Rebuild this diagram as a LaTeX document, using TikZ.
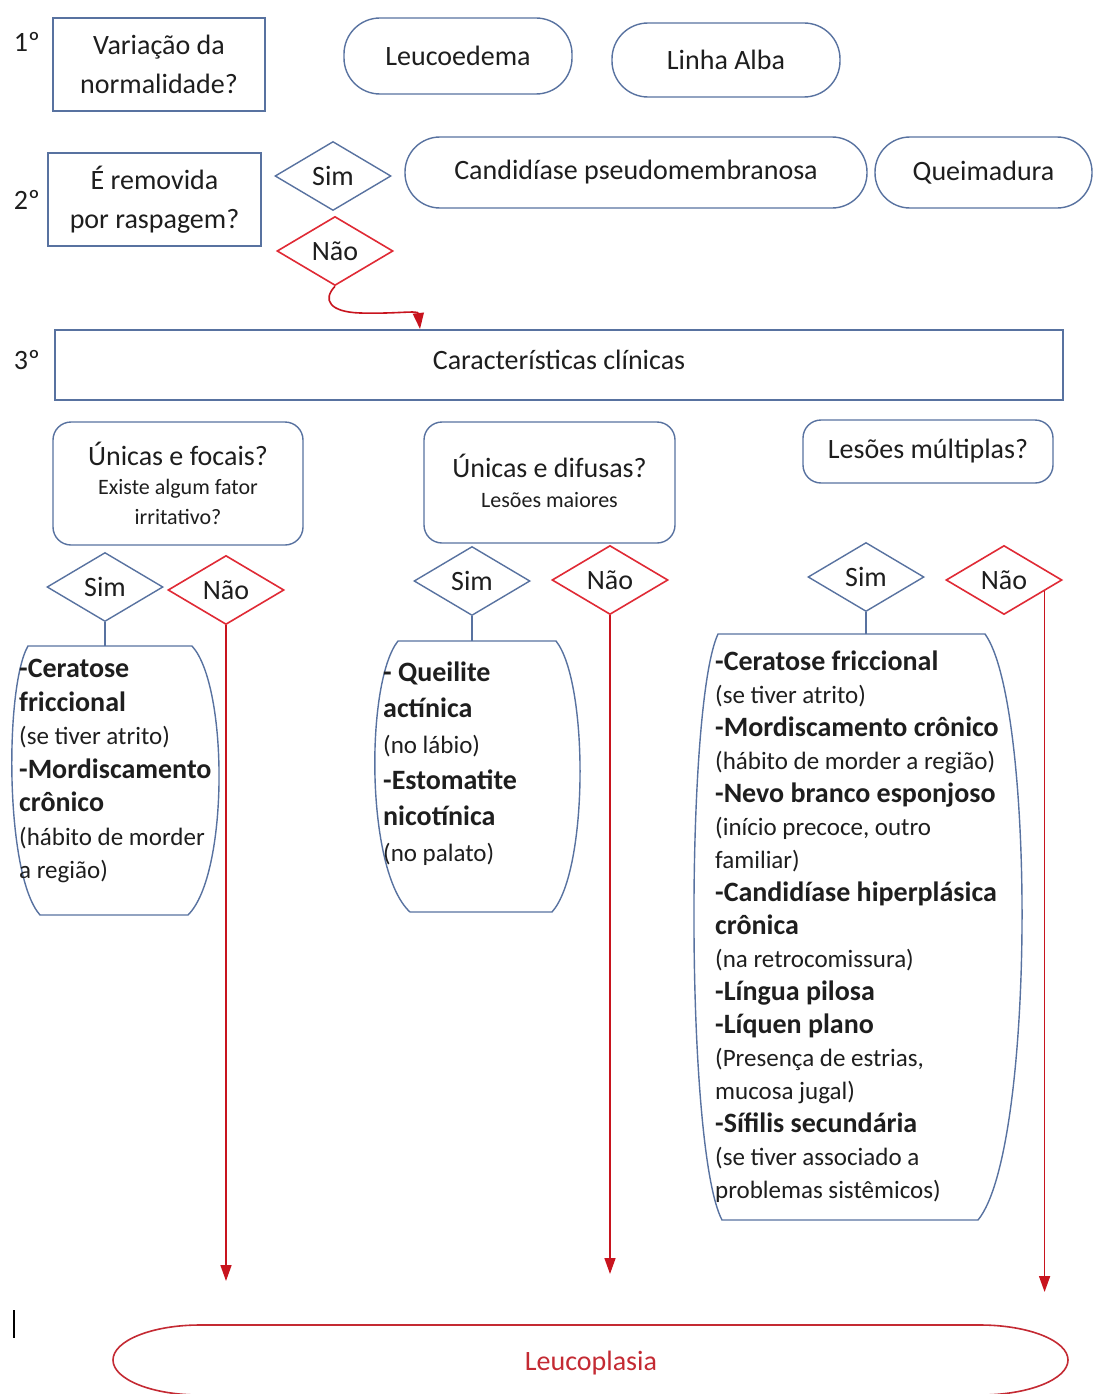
\documentclass[tikz,border=0pt]{standalone}
\usepackage{fontspec}
\setmainfont{Carlito}
\usetikzlibrary{shapes.geometric,arrows.meta,calc}
\definecolor{bord}{HTML}{5872A0}
\definecolor{txt}{HTML}{1E1E1E}
\definecolor{redd}{HTML}{E02A35}
\definecolor{redarr}{HTML}{C8141E}
\definecolor{leuc}{HTML}{C42A33}
\newcommand{\fmain}{\fontsize{28}{39}\selectfont}
\newcommand{\fsmall}{\fontsize{22}{29}\selectfont}
\newcommand{\flist}{\fontsize{28}{33}\selectfont}
\newcommand{\flista}{\fontsize{28}{33.5}\selectfont}
\newcommand{\flistb}{\fontsize{28}{36}\selectfont}
\newcommand{\fnote}{\fontsize{25}{33}\selectfont}
\begin{document}
\begin{tikzpicture}[x=1pt,y=-1pt,
  sqbox/.style={draw=bord, line width=1.6pt, rectangle, inner sep=0pt, align=center, font=\fmain, text=txt},
  pill/.style={draw=bord, line width=1.4pt, rectangle, rounded corners=36pt, inner sep=0pt, font=\fmain, text=txt},
  rbox/.style={draw=bord, line width=1.4pt, rectangle, rounded corners=18pt, inner sep=0pt, align=center, font=\fmain, text=txt},
  yesd/.style={diamond, draw=bord, line width=1.4pt, inner sep=0pt, minimum width=116pt, minimum height=69pt, font=\fmain, text=txt},
  nod/.style={yesd, draw=redd, line width=1.6pt},
  lbl/.style={font=\fmain, text=txt, inner sep=0pt},
  redarrow/.style={draw=redarr, line width=1.6pt, -{Triangle[length=16pt,width=11pt]}},
  link/.style={draw=bord, line width=1.3pt},
  barrel/.style={draw=bord, line width=1.4pt},
  listtxt/.style={text=txt, align=left, inner sep=0pt, anchor=north west}]
\useasboundingbox (0,0) rectangle (1094,1394);
\fill[white] (0,0) rectangle (1094,1394);

% Level 1
\node[lbl] (n1) at (27,42) {1º};
\node[sqbox, minimum width=212pt, minimum height=93pt] (q1) at (159,64.5) {Variação da\\normalidade?};
\node[pill, minimum width=228pt, minimum height=76pt] (leuco) at (458,56) {Leucoedema};
\node[pill, minimum width=228pt, minimum height=74pt] (alba) at (726,60) {Linha Alba};

% Level 2
\node[lbl] (n2) at (27,200) {2º};
\node[sqbox, minimum width=213pt, minimum height=93pt] (q2) at (154.5,199.5) {É removida\\por raspagem?};
\node[yesd] (sim0) at (333,176) {Sim};
\node[nod] (nao0) at (335,251) {Não};
\node[pill, minimum width=462pt, minimum height=71pt, rounded corners=35pt] (cand) at (636,172.5) {Candidíase pseudomembranosa};
\node[pill, minimum width=217pt, minimum height=71pt, rounded corners=35pt] (queim) at (983.5,172.5) {Queimadura};

% Level 3
\node[lbl] (n3) at (27,360) {3º};
\node[sqbox, minimum width=1008pt, minimum height=70pt] (carac) at (559,365) {\raisebox{10pt}{Características clínicas}};
\coordinate (cin) at (420,329);
\draw[redarrow] (nao0.south) .. controls (322,300) and (330,312) .. (360,313) .. controls (398,314) and (418,310) .. (cin);

% Questions
\node[rbox, minimum width=250pt, minimum height=123pt] (qa) at (178,483.5) {Únicas e focais?\\[-10pt]{\fsmall Existe algum fator}\\[-9pt]{\fsmall irritativo?}};
\node[rbox, minimum width=251pt, minimum height=121pt] (qb) at (549.5,482.5) {\raisebox{4pt}{Únicas e difusas?}\\[-9pt]\raisebox{4pt}{\fsmall Lesões maiores}};
\node[rbox, minimum width=250pt, minimum height=63pt] (qc) at (928,451.5) {Lesões múltiplas?};

% Diamonds
\node[yesd] (simA) at (105,587) {Sim};
\node[nod] (naoA) at (226,590) {Não};
\node[yesd] (simB) at (472,581) {Sim};
\node[nod] (naoB) at (610,580) {Não};
\node[yesd] (simC) at (866,577) {Sim};
\node[nod] (naoC) at (1004,580) {Não};

% Barrels
\draw[barrel] (28,646) -- (192,646) .. controls (228.7,686) and (228.7,875) .. (188,915) -- (40,915) .. controls (4.7,875) and (4.7,686) .. (28,646) -- cycle;
\draw[barrel] (398,641) -- (556,641) .. controls (588.7,682) and (588.7,871) .. (552,912) -- (410,912) .. controls (365.3,871) and (365.3,682) .. (398,641) -- cycle;
\draw[barrel] (718,634) -- (985,634) .. controls (1035.5,704) and (1035.5,1150) .. (978,1220) -- (722,1220) .. controls (685.3,1150) and (685.3,704) .. (718,634) -- cycle;
\coordinate (a1top) at (105,646);
\coordinate (b1top) at (472,641);
\coordinate (c1top) at (866,634);
\draw[link] (simA.south) -- (a1top);
\draw[link] (simB.south) -- (b1top);
\draw[link] (simC.south) -- (c1top);

\node[listtxt, font=\flista] (t1) at (19,659) {\textbf{-Ceratose}\\\textbf{friccional}\\{\fnote (se tiver atrito)}\\\textbf{-Mordiscamento}\\\textbf{crônico}\\{\fnote (hábito de morder}\\{\fnote a região)}};
\node[listtxt, font=\flistb] (t2) at (383,662) {\textbf{- Queilite}\\\textbf{actínica}\\{\fnote (no lábio)}\\\textbf{-Estomatite}\\\textbf{nicotínica}\\{\fnote (no palato)}};
\node[listtxt, font=\flist] (t3) at (715,651) {\textbf{-Ceratose friccional}\\{\fnote (se tiver atrito)}\\\textbf{-Mordiscamento crônico}\\{\fnote (hábito de morder a região)}\\\textbf{-Nevo branco esponjoso}\\{\fnote (início precoce, outro}\\{\fnote familiar)}\\\textbf{-Candidíase hiperplásica}\\\textbf{crônica}\\{\fnote (na retrocomissura)}\\\textbf{-Língua pilosa}\\\textbf{-Líquen plano}\\{\fnote (Presença de estrias,}\\{\fnote mucosa jugal)}\\\textbf{-Sífilis secundária}\\{\fnote (se tiver associado a}\\{\fnote problemas sistêmicos)}};

% Final
\node[font=\fmain, text=leuc, inner sep=0pt, minimum width=955pt, minimum height=70pt] (leucop) at (591,1363) {Leucoplasia};
\draw[draw=leuc, line width=1.6pt] (200,1325) -- (980,1325) arc[start angle=-90, end angle=90, x radius=88, y radius=35] -- (200,1395) arc[start angle=90, end angle=270, x radius=87, y radius=35];

\coordinate (eA) at (226,1281);
\coordinate (eB) at (610,1274);
\coordinate (eC) at (1044,1292);
\coordinate (nCs) at ($(naoC.east)!0.31!(naoC.south)$);
\draw[redarrow] (naoA.south) -- (eA);
\draw[redarrow] (naoB.south) -- (eB);
\draw[redarrow] (nCs) -- (nCs |- eC);

\draw[line width=2pt, black] (14,1310) -- (14,1338);
\end{tikzpicture}
\end{document}
